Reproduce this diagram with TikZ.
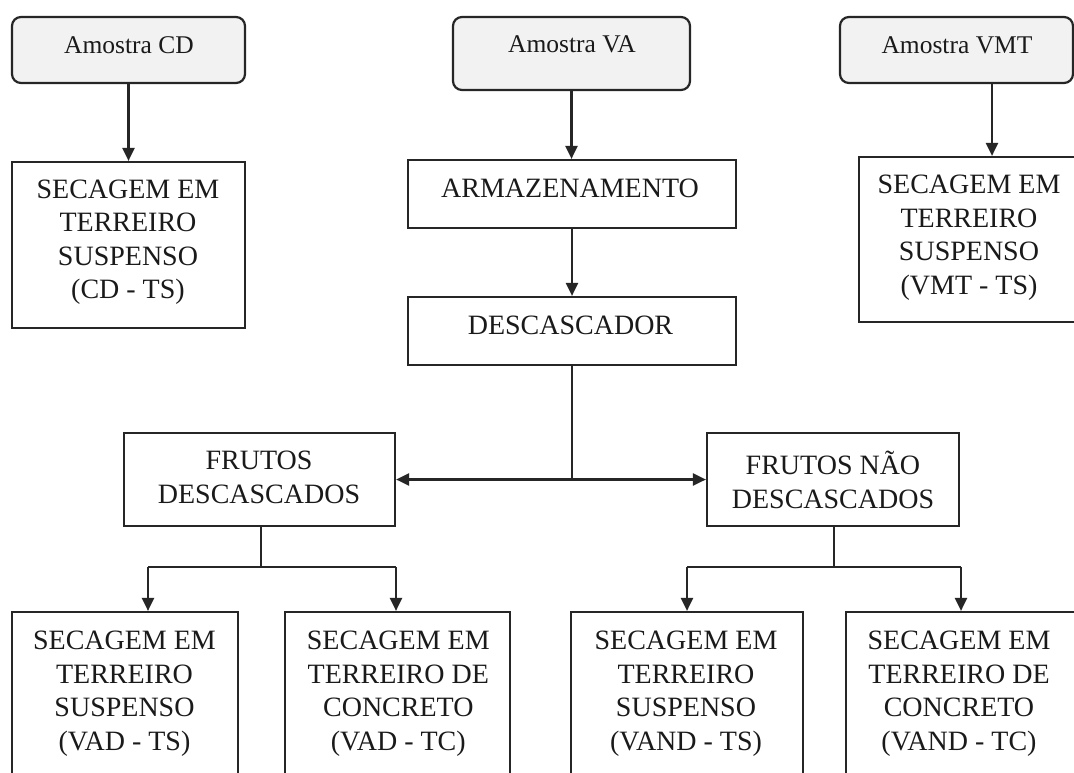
\documentclass[tikz,border=0pt]{standalone}
\usepackage{fontspec}
\setmainfont{Liberation Serif}
\usetikzlibrary{arrows.meta}
\definecolor{ln}{HTML}{262626}
\definecolor{tx}{HTML}{1A1A1A}
\definecolor{gf}{HTML}{F2F2F2}
\tikzset{
  box/.style={draw=ln, line width=2.2pt, inner sep=0pt, fill=white},
  rbox/.style={box, fill=gf, rounded corners=9pt},
  txt/.style={inner sep=0pt, anchor=north, align=center, text=tx,
    font=\fontsize{28}{33.5}\selectfont, execute at begin node={\rule{0pt}{24pt}}},
  stxt/.style={txt, font=\fontsize{25.5}{29}\selectfont},
  con/.style={draw=ln, line width=2.2pt},
  arr/.style={con, -{Triangle[width=12pt,length=13pt]}},
  arrb/.style={con, {Triangle[width=12pt,length=13pt]}-{Triangle[width=12pt,length=13pt]}}
}
\begin{document}
\begin{tikzpicture}[x=1pt,y=-1pt]
\useasboundingbox (0,0) rectangle (1074,772);
\clip (0,0) rectangle (1074,772);
\fill[white] (0,0) rectangle (1074,772);
% boxes
\node[rbox, minimum width=233pt, minimum height=66pt] (amcd) at (128.5,50) {};
\node[rbox, minimum width=237pt, minimum height=73pt] (amva) at (571.5,53.5) {};
\node[rbox, minimum width=233pt, minimum height=66pt] (amvmt) at (956.5,50) {};
\node[box, minimum width=233pt, minimum height=166pt] (cdts) at (128.5,245) {};
\node[box, minimum width=328pt, minimum height=68pt] (arm) at (572,194) {};
\node[box, minimum width=328pt, minimum height=68pt] (desc) at (572,331) {};
\node[box, minimum width=221pt, minimum height=165pt] (vmtts) at (969.5,239.5) {};
\node[box, minimum width=271pt, minimum height=93pt] (fd) at (259.5,479.5) {};
\node[box, minimum width=252pt, minimum height=93pt] (fnd) at (833,479.5) {};
\node[box, minimum width=226pt, minimum height=188pt] (vadts) at (125,706) {};
\node[box, minimum width=225pt, minimum height=188pt] (vadtc) at (397.5,706) {};
\node[box, minimum width=232pt, minimum height=188pt] (vandts) at (687,706) {};
\node[box, minimum width=232pt, minimum height=188pt] (vandtc) at (962,706) {};
% texts
\node[stxt] (tamcd) at (129,29) {Amostra CD};
\node[stxt] (tamva) at (572,28.5) {Amostra VA};
\node[stxt] (tamvmt) at (957,29) {Amostra VMT};
\node[txt] (tcdts) at (128,179.5) {SECAGEM EM\\TERREIRO\\SUSPENSO\\(CD - TS)};
\node[txt] (tarm) at (570,173.5) {ARMAZENAMENTO};
\node[txt] (tdesc) at (570.5,310) {DESCASCADOR};
\node[txt] (tvmtts) at (969,175) {SECAGEM EM\\TERREIRO\\SUSPENSO\\(VMT - TS)};
\node[txt] (tfd) at (259,451) {FRUTOS\\DESCASCADOS};
\node[txt] (tfnd) at (833,451) {FRUTOS NÃO\\DESCASCADOS};
\node[txt] (tvadts) at (124.5,631) {SECAGEM EM\\TERREIRO\\SUSPENSO\\(VAD - TS)};
\node[txt] (tvadtc) at (398.3,631) {SECAGEM EM\\TERREIRO DE\\CONCRETO\\(VAD - TC)};
\node[txt] (tvandts) at (686,631) {SECAGEM EM\\TERREIRO\\SUSPENSO\\(VAND - TS)};
\node[txt] (tvandtc) at (959,631) {SECAGEM EM\\TERREIRO DE\\CONCRETO\\(VAND - TC)};
% connectors
\coordinate (vx) at (992,0);
\coordinate (jd) at (572,479.5);
\coordinate (ja) at (261,567);
\coordinate (jal) at (148,567);
\coordinate (jar) at (396,567);
\coordinate (jb) at (834,567);
\coordinate (jbl) at (687,567);
\coordinate (jbr) at (961,567);
\draw[arr] (amcd.south) -- (cdts.north);
\draw[arr] (amva.south) -- (arm.north -| amva.south);
\draw[arr] (amvmt.south -| vx) -- (vmtts.north -| vx);
\draw[arr] (arm.south) -- (desc.north);
\draw[con] (desc.south) -- (jd);
\draw[arrb] (fd.east) -- (fnd.west);
\draw[con] (fd.south -| ja) -- (ja);
\draw[con] (jal) -- (jar);
\draw[arr] (jal) -- (vadts.north -| jal);
\draw[arr] (jar) -- (vadtc.north -| jar);
\draw[con] (fnd.south -| jb) -- (jb);
\draw[con] (jbl) -- (jbr);
\draw[arr] (jbl) -- (vandts.north -| jbl);
\draw[arr] (jbr) -- (vandtc.north -| jbr);
\end{tikzpicture}
\end{document}
